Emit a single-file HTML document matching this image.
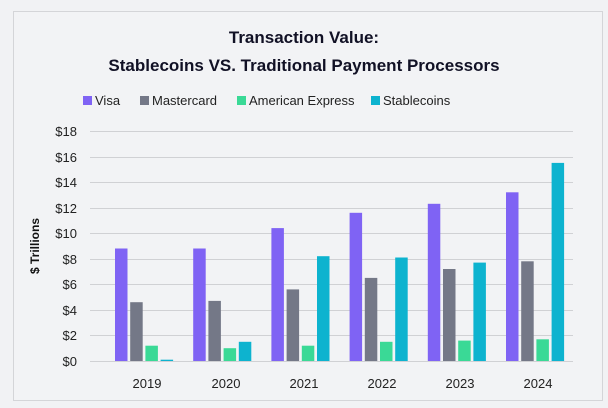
<!DOCTYPE html><html><head><style>
body{margin:0;background:#f1f2f4;width:608px;height:403px;overflow:hidden;font-family:"Liberation Sans",sans-serif}
</style></head><body>
<svg width="608" height="403" xmlns="http://www.w3.org/2000/svg" font-family="Liberation Sans, sans-serif">
<rect x="13.5" y="11.5" width="589" height="389" fill="#f2f3f5" stroke="#d4d5d8"/>
<text x="304" y="43" text-anchor="middle" font-size="17" font-weight="bold" fill="#111125">Transaction Value:</text>
<text x="304" y="71" text-anchor="middle" font-size="17" font-weight="bold" fill="#111125">Stablecoins VS. Traditional Payment Processors</text>
<g font-size="13" fill="#222">
<rect x="83" y="96" width="9" height="9" fill="#7f63f4"/><text x="95" y="105">Visa</text>
<rect x="140" y="96" width="9" height="9" fill="#747887"/><text x="152" y="105">Mastercard</text>
<rect x="237" y="96" width="9" height="9" fill="#3ad996"/><text x="249" y="105">American Express</text>
<rect x="371" y="96" width="9" height="9" fill="#0db3cf"/><text x="383" y="105">Stablecoins</text>
</g>
<g stroke="#d0d1d4" stroke-width="1">
<line x1="90" x2="573" y1="131.5" y2="131.5"/><line x1="90" x2="573" y1="157.5" y2="157.5"/><line x1="90" x2="573" y1="182.5" y2="182.5"/><line x1="90" x2="573" y1="208.5" y2="208.5"/><line x1="90" x2="573" y1="233.5" y2="233.5"/><line x1="90" x2="573" y1="259.5" y2="259.5"/><line x1="90" x2="573" y1="284.5" y2="284.5"/><line x1="90" x2="573" y1="310.5" y2="310.5"/><line x1="90" x2="573" y1="335.5" y2="335.5"/><line x1="90" x2="573" y1="361.5" y2="361.5"/>
</g>
<g font-size="13" fill="#222" text-anchor="end">
<text x="77" y="136">$18</text><text x="77" y="162">$16</text><text x="77" y="187">$14</text><text x="77" y="213">$12</text><text x="77" y="238">$10</text><text x="77" y="264">$8</text><text x="77" y="289">$6</text><text x="77" y="315">$4</text><text x="77" y="340">$2</text><text x="77" y="366">$0</text>
</g>
<text transform="translate(39,246) rotate(-90)" text-anchor="middle" font-size="12" font-weight="bold" fill="#111">$ Trillions</text>
<g fill="#7f63f4">
<rect x="115" y="248.5" width="12.5" height="112.5"/><rect x="193.2" y="248.5" width="12.5" height="112.5"/><rect x="271.4" y="228.1" width="12.5" height="132.9"/><rect x="349.6" y="212.8" width="12.5" height="148.2"/><rect x="427.8" y="203.8" width="12.5" height="157.2"/><rect x="506" y="192.3" width="12.5" height="168.7"/>
</g>
<g fill="#747887">
<rect x="130.2" y="302.2" width="12.5" height="58.8"/><rect x="208.4" y="300.9" width="12.5" height="60.1"/><rect x="286.6" y="289.4" width="12.5" height="71.6"/><rect x="364.8" y="277.9" width="12.5" height="83.1"/><rect x="443" y="269" width="12.5" height="92"/><rect x="521.2" y="261.3" width="12.5" height="99.7"/>
</g>
<g fill="#3ad996">
<rect x="145.4" y="345.7" width="12.5" height="15.3"/><rect x="223.6" y="348.2" width="12.5" height="12.8"/><rect x="301.8" y="345.7" width="12.5" height="15.3"/><rect x="380" y="341.8" width="12.5" height="19.2"/><rect x="458.2" y="340.6" width="12.5" height="20.4"/><rect x="536.4" y="339.3" width="12.5" height="21.7"/>
</g>
<g fill="#0db3cf">
<rect x="160.6" y="359.7" width="12.5" height="1.3"/><rect x="238.8" y="341.8" width="12.5" height="19.2"/><rect x="317" y="256.2" width="12.5" height="104.8"/><rect x="395.2" y="257.5" width="12.5" height="103.5"/><rect x="473.4" y="262.6" width="12.5" height="98.4"/><rect x="551.6" y="162.9" width="12.5" height="198.1"/>
</g>
<g font-size="13" fill="#222" text-anchor="middle">
<text x="147" y="388">2019</text><text x="226" y="388">2020</text><text x="304" y="388">2021</text><text x="382" y="388">2022</text><text x="460" y="388">2023</text><text x="538" y="388">2024</text>
</g>
</svg></body></html>
